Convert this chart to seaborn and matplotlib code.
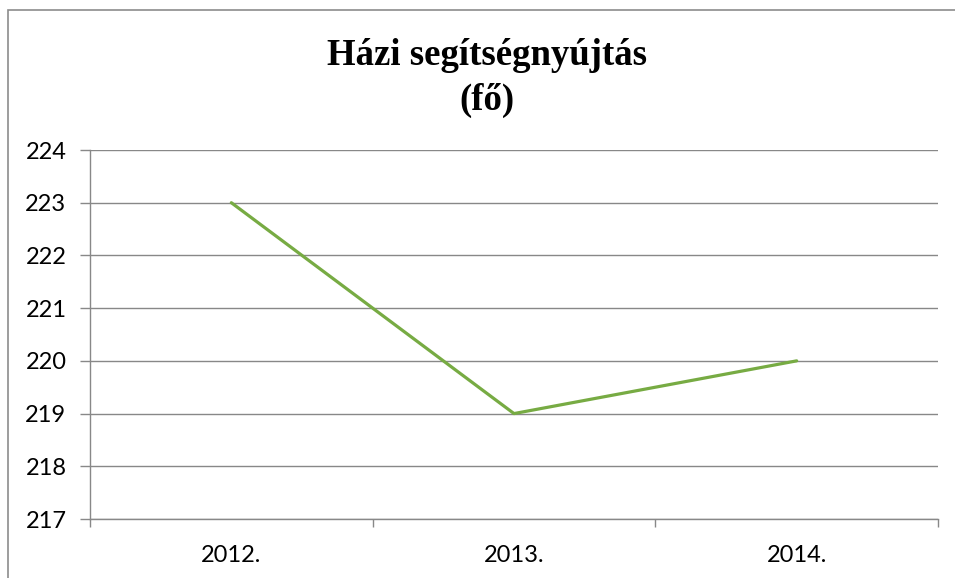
import numpy as np
import pandas as pd
import seaborn as sns
import matplotlib.pyplot as plt
from matplotlib.patches import Rectangle

# data
years = ["2012.", "2013.", "2014."]
values = [223, 219, 220]
title = "Házi segítségnyújtás\n(fő)"

sns.set_theme(style="white")
plt.rcParams['font.family'] = ['Lato', 'DejaVu Sans']

W, H = 955, 578
fig = plt.figure(figsize=(W / 100, H / 100), dpi=100)
ax = fig.add_axes([90 / W, 1 - 519 / H, (938 - 90) / W, (519 - 150) / H])

df = pd.DataFrame({"year": years, "value": values})
sns.lineplot(data=df, x="year", y="value", ax=ax, color="#77ab43", linewidth=2.3)

ax.set_xlim(-0.5, 2.5)
ax.set_ylim(217, 224)
ax.set_yticks(range(217, 225))
ax.set_xlabel("")
ax.set_ylabel("")
ax.grid(axis="y", color="#888888", linewidth=1)
ax.set_axisbelow(True)

for s in ["top", "right"]:
    ax.spines[s].set_visible(False)
ax.spines["left"].set_color("#888888")
ax.spines["bottom"].set_color("#888888")
ax.spines["left"].set_linewidth(1)
ax.spines["bottom"].set_linewidth(1)

# category boundary ticks on x, small ticks on y
ax.set_xticks([-0.5, 0.5, 1.5, 2.5], minor=True)
ax.tick_params(axis="x", which="major", length=0, pad=19, labelsize=17, colors="black")
ax.tick_params(axis="x", which="minor", length=6, width=1, color="#888888", direction="out", bottom=True)
ax.tick_params(axis="y", which="major", length=7, width=1, color="#888888", direction="out", left=True,
               labelsize=17, pad=10, labelcolor="black")

fig.text(0.51, 1 - 78 / H, title, ha="center", va="center", fontsize=26.5, fontweight="bold",
         color="black", family=["Liberation Serif", "DejaVu Serif"], linespacing=1.38)

# outer chart frame
fig.patches.append(Rectangle((8 / W, -0.05), 1.2, 1 - 10 / H + 0.05, transform=fig.transFigure,
                             fill=False, edgecolor="#8c8c8c", linewidth=1.2))

fig.savefig("out.png", dpi=100)
